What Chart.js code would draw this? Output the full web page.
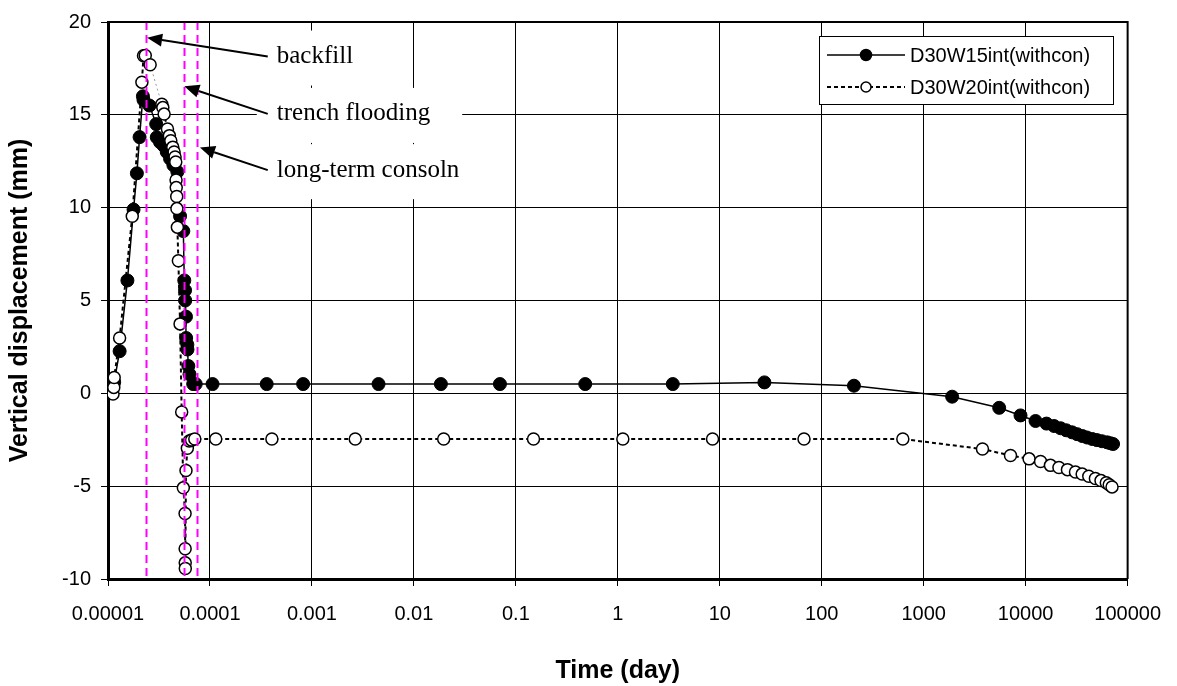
<!DOCTYPE html>
<html>
<head>
<meta charset="utf-8">
<script src="https://cdn.jsdelivr.net/npm/chart.js@4.4.1/dist/chart.umd.min.js"></script>
<style>
  html, body { margin: 0; padding: 0; background: #fff; }
</style>
</head>
<body>
<canvas id="chart" width="1177" height="686"></canvas>
<script>
const seriesNames = ['D30W15int(withcon)', 'D30W20int(withcon)'];

// x axis decades (day)
const timeTicks = [1e-5, 1e-4, 1e-3, 1e-2, 1e-1, 1, 10, 100, 1000, 10000, 100000];
const timeTickLabels = ['0.00001', '0.0001', '0.001', '0.01', '0.1', '1', '10', '100', '1000', '10000', '100000'];

// D30W15int(withcon) - filled markers
const w15Time = [1.10e-5, 1.15e-5, 1.30e-5, 1.55e-5, 1.78e-5, 1.92e-5, 2.04e-5, 2.20e-5, 2.23e-5, 2.55e-5,
  2.97e-5, 3.01e-5, 3.24e-5, 3.50e-5, 3.77e-5, 4.06e-5, 4.38e-5, 4.79e-5, 5.09e-5, 5.48e-5,
  5.60e-5, 5.70e-5, 5.72e-5, 5.82e-5, 5.84e-5, 6.00e-5, 6.02e-5, 6.14e-5, 6.30e-5, 6.85e-5,
  7.25e-5, 1.06e-4, 3.6e-4, 8.2e-4, 4.5e-3, 1.84e-2, 6.98e-2, 0.479, 3.46, 27.4,
  207, 1900, 5500, 8900, 12500, 16000, 19000, 22000, 25000, 28500,
  32000, 36000, 40000, 45000, 50000, 56000, 63000, 68000, 72000];
const w15Disp = [0.1, 0.6, 2.27, 6.08, 9.9, 11.85, 13.8, 16.0, 15.8, 15.5,
  14.5, 13.79, 13.53, 13.35, 13.0, 12.64, 12.29, 11.93, 9.54, 8.74,
  6.08, 5.55, 5.0, 4.13, 2.98, 2.62, 2.36, 1.47, 1.03, 0.5,
  0.5, 0.5, 0.5, 0.5, 0.5, 0.5, 0.5, 0.5, 0.5, 0.59,
  0.41, -0.18, -0.78, -1.19, -1.49, -1.63, -1.76, -1.88, -1.99, -2.1,
  -2.2, -2.3, -2.38, -2.46, -2.52, -2.58, -2.64, -2.69, -2.73];

// D30W20int(withcon) - open markers
const w20Time = [1.12e-5, 1.14e-5, 1.15e-5, 1.30e-5, 1.73e-5, 2.15e-5, 2.23e-5, 2.32e-5, 2.59e-5, 3.37e-5,
  3.45e-5, 3.55e-5, 3.83e-5, 4.00e-5, 4.13e-5, 4.32e-5, 4.45e-5, 4.55e-5, 4.62e-5, 4.65e-5,
  4.67e-5, 4.72e-5, 4.74e-5, 4.79e-5, 4.90e-5, 5.09e-5, 5.28e-5, 5.48e-5, 5.70e-5, 5.71e-5,
  5.72e-5, 5.73e-5, 5.82e-5, 6.00e-5, 6.27e-5, 6.60e-5, 7.10e-5, 1.14e-4, 4.05e-4, 2.66e-3,
  1.96e-2, 0.149, 1.12, 8.49, 67, 624, 3770, 7100, 10800, 14000,
  17500, 21200, 25700, 30800, 35800, 41600, 48300, 54800, 61800, 66000, 70300];
const w20Disp = [-0.04, 0.32, 0.85, 2.98, 9.54, 16.76, 18.18, 18.2, 17.7, 15.57,
  15.39, 15.04, 14.24, 13.88, 13.6, 13.26, 13.0, 12.73, 12.46, 11.49,
  11.08, 10.6, 9.95, 8.95, 7.14, 3.74, -1.0, -5.09, -6.47, -8.37,
  -9.13, -9.43, -4.16, -2.96, -2.57, -2.52, -2.46, -2.46, -2.46, -2.46,
  -2.46, -2.46, -2.46, -2.46, -2.46, -2.46, -3.0, -3.35, -3.53, -3.67,
  -3.88, -3.99, -4.11, -4.24, -4.35, -4.47, -4.59, -4.70, -4.82, -4.92, -5.04];

// construction stages (magenta lines) and their notes
const stageTimes = [2.35e-5, 5.57e-5, 7.5e-5];
const stageLabels = ['backfill', 'trench flooding', 'long-term consoln'];
const arrowTipTime = [2.42e-5, 5.6e-5, 7.98e-5];
const arrowTipDisp = [19.15, 16.54, 13.24];
const noteTime = 4.52e-4;
const noteDisp = [18.14, 15.05, 12.02];

const SANS = '"Liberation Sans", Arial, sans-serif';
const SERIF = '"Liberation Serif", "Times New Roman", serif';

const toPoints = (xs, ys) => xs.map((x, i) => ({ x: x, y: ys[i] }));

// magenta stage lines, notes with arrows, frame, legend
const overlay = {
  id: 'overlay',
  afterDatasetsDraw(chart) {
    const { ctx, chartArea: a, scales: { x, y } } = chart;
    ctx.save();

    // stage lines
    ctx.strokeStyle = '#FF00FF';
    ctx.lineWidth = 2;
    ctx.setLineDash([8, 5]);
    stageTimes.forEach(t => {
      const px = Math.round(x.getPixelForValue(t)) + 0.5;
      ctx.beginPath();
      ctx.moveTo(px, a.top);
      ctx.lineTo(px, a.bottom);
      ctx.stroke();
    });
    ctx.setLineDash([]);

    // top / right frame
    ctx.strokeStyle = '#000';
    ctx.lineWidth = 2;
    ctx.beginPath();
    ctx.moveTo(a.left, a.top);
    ctx.lineTo(a.right, a.top);
    ctx.lineTo(a.right, a.bottom);
    ctx.stroke();

    // notes
    ctx.font = '25px ' + SERIF;
    ctx.textBaseline = 'middle';
    ctx.textAlign = 'left';
    stageLabels.forEach((txt, i) => {
      const tx = x.getPixelForValue(noteTime);
      const ty = y.getPixelForValue(noteDisp[i]);
      const w = ctx.measureText(txt).width;
      ctx.fillStyle = '#fff';
      ctx.fillRect(tx - 20, ty - 26, w + 52, 55);
    });
    stageLabels.forEach((txt, i) => {
      const tx = x.getPixelForValue(noteTime);
      const ty = y.getPixelForValue(noteDisp[i]);
      ctx.fillStyle = '#000';
      ctx.fillText(txt, tx, ty);

      const x0 = tx - 9, y0 = ty;
      const x1 = x.getPixelForValue(arrowTipTime[i]);
      const y1 = y.getPixelForValue(arrowTipDisp[i]);
      const ang = Math.atan2(y1 - y0, x1 - x0);
      const len = 15, hw = 6.5;
      const bx = x1 - len * Math.cos(ang), by = y1 - len * Math.sin(ang);
      ctx.strokeStyle = '#000';
      ctx.lineWidth = 2;
      ctx.beginPath();
      ctx.moveTo(x0, y0);
      ctx.lineTo(bx, by);
      ctx.stroke();
      ctx.beginPath();
      ctx.moveTo(x1, y1);
      ctx.lineTo(bx + hw * Math.sin(ang), by - hw * Math.cos(ang));
      ctx.lineTo(bx - hw * Math.sin(ang), by + hw * Math.cos(ang));
      ctx.closePath();
      ctx.fill();
    });

    // legend
    const lx = 819, ly = 36, lw = 294, lh = 68;
    ctx.fillStyle = '#fff';
    ctx.fillRect(lx, ly, lw, lh);
    ctx.strokeStyle = '#000';
    ctx.lineWidth = 1;
    ctx.strokeRect(lx + 0.5, ly + 0.5, lw, lh);
    ctx.font = '20px ' + SANS;
    chart.data.datasets.forEach((ds, i) => {
      const cy = ly + 19 + i * 32;
      ctx.strokeStyle = '#000';
      ctx.lineWidth = ds.borderWidth;
      ctx.setLineDash(ds.borderDash || []);
      ctx.beginPath();
      ctx.moveTo(lx + 8, cy);
      ctx.lineTo(lx + 86, cy);
      ctx.stroke();
      ctx.setLineDash([]);
      ctx.beginPath();
      ctx.arc(lx + 47, cy, i === 0 ? 5.5 : 5, 0, Math.PI * 2);
      ctx.fillStyle = ds.pointBackgroundColor;
      ctx.fill();
      ctx.lineWidth = 1.5;
      ctx.stroke();
      ctx.fillStyle = '#000';
      ctx.fillText(ds.label, lx + 91, cy + 1);
    });
    ctx.restore();
  }
};

new Chart(document.getElementById('chart'), {
  type: 'scatter',
  data: {
    datasets: [
      {
        label: seriesNames[0],
        data: toPoints(w15Time, w15Disp),
        showLine: true,
        borderColor: '#000',
        borderWidth: 1.5,
        pointRadius: 6.5,
        pointBackgroundColor: '#000',
        pointBorderColor: '#000',
        pointBorderWidth: 1,
        order: 2
      },
      {
        label: seriesNames[1],
        data: toPoints(w20Time, w20Disp),
        showLine: true,
        borderColor: '#000',
        borderWidth: 2,
        borderDash: [4, 3],
        // the jump after the peak is drawn as a faint dotted line in the original
        segment: {
          borderColor: c => c.p0DataIndex === 8 ? '#999' : undefined,
          borderWidth: c => c.p0DataIndex === 8 ? 1 : undefined,
          borderDash: c => c.p0DataIndex === 8 ? [2, 3] : undefined
        },
        pointRadius: 6,
        pointBackgroundColor: '#fff',
        pointBorderColor: '#000',
        pointBorderWidth: 1.5,
        order: 1
      }
    ]
  },
  options: {
    responsive: false,
    animation: false,
    devicePixelRatio: 1,
    layout: { padding: { left: 0, top: 15, right: 47, bottom: 0 } },
    plugins: { legend: { display: false }, tooltip: { enabled: false } },
    scales: {
      x: {
        type: 'logarithmic',
        min: 1e-5,
        max: 1e5,
        afterBuildTicks: s => { s.ticks = timeTicks.map(v => ({ value: v })); },
        afterFit: s => { s.height = 107; },
        ticks: {
          autoSkip: false,
          maxRotation: 0,
          padding: 16,
          color: '#000',
          font: { family: SANS, size: 20 },
          callback: v => timeTickLabels[timeTicks.indexOf(v)]
        },
        grid: { color: '#000', lineWidth: 1, tickLength: 7, tickColor: '#000' },
        border: { color: '#000', width: 3 },
        title: {
          display: true,
          text: 'Time (day)',
          color: '#000',
          font: { family: SANS, size: 25, weight: 'bold' },
          padding: { top: 2, bottom: 0 }
        }
      },
      y: {
        type: 'linear',
        min: -10,
        max: 20,
        afterFit: s => { s.width = 108; },
        ticks: {
          stepSize: 5,
          padding: 10,
          color: '#000',
          font: { family: SANS, size: 20 }
        },
        grid: { color: '#000', lineWidth: 1, tickLength: 7, tickColor: '#000' },
        border: { color: '#000', width: 3 },
        title: {
          display: true,
          text: 'Vertical displacement (mm)',
          color: '#000',
          font: { family: SANS, size: 25, weight: 'bold' },
          padding: { top: 5, bottom: 0 }
        }
      }
    }
  },
  plugins: [overlay]
});
</script>
</body>
</html>
